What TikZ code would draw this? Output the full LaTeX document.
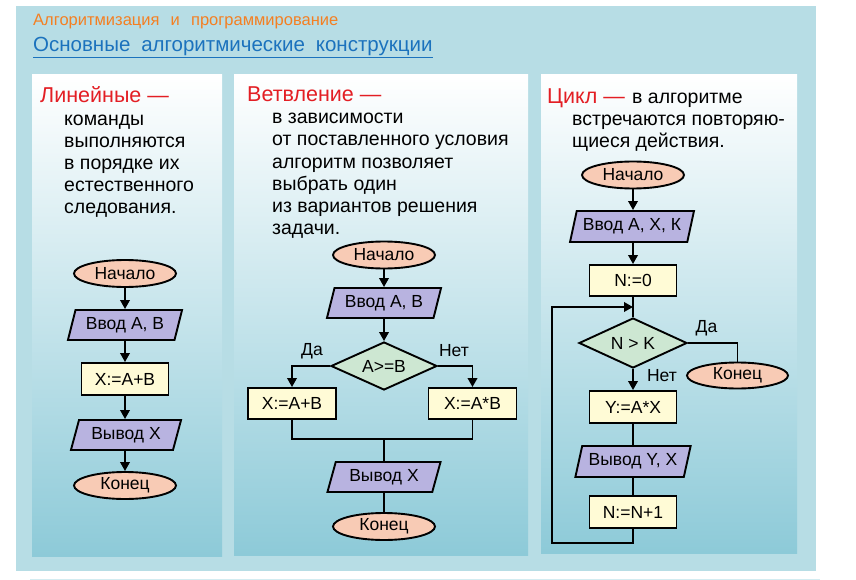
\documentclass[tikz,border=0pt]{standalone}
\usepackage{fontspec}
\setmainfont{Liberation Sans}
\usetikzlibrary{shapes.geometric,arrows.meta}
\definecolor{outerbg}{HTML}{B7DDE5}
\definecolor{panelbot}{HTML}{8DCAD8}
\definecolor{termfill}{HTML}{F8CBB5}
\definecolor{iofill}{HTML}{B8B3E0}
\definecolor{procfill}{HTML}{FFFBD6}
\definecolor{decfill}{HTML}{CDE7D2}
\definecolor{titleorange}{HTML}{F47F22}
\definecolor{titleblue}{HTML}{1B72BD}
\definecolor{headred}{HTML}{E31E24}
\definecolor{footline}{HTML}{D3ECF1}
\tikzset{
  txt/.style={anchor=base west, inner sep=0pt, font=\fontsize{19.5}{22}\selectfont},
  head/.style={anchor=base west, inner sep=0pt, text=headred, font=\fontsize{21.5}{24}\selectfont},
  fc/.style={draw=black, line width=1.9pt, inner sep=0pt, font=\fontsize{17.5}{19}\selectfont},
  term/.style={fc, ellipse, fill=termfill, minimum width=102pt, minimum height=27pt},
  io/.style={fc, trapezium, trapezium left angle=69, trapezium right angle=111, trapezium stretches=true, fill=iofill, minimum width=115pt, minimum height=30pt},
  proc/.style={fc, rectangle, fill=procfill, minimum width=87pt, minimum height=32pt},
  dec/.style={fc, diamond, aspect=2.2, fill=decfill, minimum width=106pt, minimum height=48pt},
  lbl/.style={inner sep=0pt, font=\fontsize{17.5}{19}\selectfont},
  conn/.style={line width=1.9pt},
  arr/.style={conn, -{Triangle[length=9pt,width=9.5pt]}},
  pnl/.style={top color=white, bottom color=panelbot}
}
\begin{document}
\begin{tikzpicture}[x=1pt,y=-1pt]
\useasboundingbox (0,0) rectangle (856,580);
\fill[white] (0,0) rectangle (856,580);
\fill[outerbg] (16,6) rectangle (816,571);
\draw[footline, line width=1pt] (30,579) -- (820,579);
\shade[pnl] (32,75) rectangle (222,556);
\shade[pnl] (234,75) rectangle (528,555);
\shade[pnl] (541,75) rectangle (797,553);

% titles
\node[anchor=base west, inner sep=0pt, text=titleorange, font=\fontsize{16.5}{18}\selectfont] (t1) at (33,26) {Алгоритмизация\hspace{0.4em} и\hspace{0.4em} программирование};
\node[anchor=base west, inner sep=0pt, text=titleblue, font=\fontsize{20.5}{24}\selectfont] (t2) at (33,52) {Основные\hspace{0.25em} алгоритмические\hspace{0.25em} конструкции};
\draw[titleblue, line width=1.3pt] ([yshift=-5.5pt]t2.base west) -- ([yshift=-5.5pt]t2.base east);

% panel 1 text
\node[head] (h1) at (40,103) {Линейные —};
\node[txt] (a1) at (64,126) {команды};
\node[txt] (a2) at (64,148) {выполняются};
\node[txt] (a3) at (64,170) {в порядке их};
\node[txt] (a4) at (64,192) {естественного};
\node[txt] (a5) at (64,214) {следования.};

% panel 2 text
\node[head] (h2) at (247,102) {Ветвление —};
\node[txt] (b1) at (272,124) {в зависимости};
\node[txt] (b2) at (272,146) {от поставленного условия};
\node[txt] (b3) at (272,168) {алгоритм позволяет};
\node[txt] (b4) at (272,190) {выбрать один};
\node[txt] (b5) at (272,212) {из вариантов решения};
\node[txt] (b6) at (272,234) {задачи.};

% panel 3 text
\node[head] (h3) at (547,104) {Цикл —};
\node[txt] (c0) at (632,104) {в алгоритме};
\node[txt] (c1) at (572,126) {встречаются повторяю-};
\node[txt] (c2) at (572,148) {щиеся действия.};

% flowchart 1
\node[term] (n1) at (125,273.5) {Начало};
\node[io] (i1) at (125,325) {Ввод А, В};
\node[proc] (p1) at (125,379) {X:=A+B};
\node[io, minimum width=111pt] (o1) at (126,435) {Вывод X};
\node[term] (k1) at (125,485.5) {Конец};
\draw[arr] (n1) -- (i1);
\draw[arr] (i1) -- (p1);
\draw[arr] (p1) -- (o1.north -| p1);
\draw[arr] (o1.south -| k1) -- (k1);

% flowchart 2
\node[term] (n2) at (384,255) {Начало};
\node[io] (i2) at (384,303) {Ввод А, В};
\node[dec] (d2) at (384,366) {A>=B};
\node[proc, minimum width=88pt, minimum height=31pt] (pl) at (292,403.5) {X:=A+B};
\node[proc, minimum width=88pt, minimum height=31pt] (pr) at (472.5,403.5) {X:=A*B};
\node[io, minimum width=114pt] (o2) at (384,477) {Вывод X};
\node[term] (k2) at (384,526.5) {Конец};
\node[lbl] (yes2) at (312,351) {Да};
\node[lbl] (no2) at (454,351) {Нет};
\coordinate (m2) at (384,439);
\draw[arr] (n2) -- (i2);
\draw[arr] (i2) -- (d2);
\draw[arr] (d2.west) -| (pl.north);
\draw[arr] (d2.east) -| (pr.north);
\draw[conn] (pl.south) |- (m2) -| (pr.south);
\draw[conn] (m2) -- (o2.north);
\draw[conn] (o2) -- (k2);

% flowchart 3
\node[term] (n3) at (633,175) {Начало};
\node[io, minimum width=124pt, minimum height=31pt] (i3) at (632,226.5) {Ввод А, Х, К};
\node[proc, minimum height=31pt] (r0) at (633,280.5) {N:=0};
\node[dec, minimum width=108pt, minimum height=50pt] (d3) at (633,343) {N > K};
\node[term, minimum width=101pt, minimum height=26pt] (k3) at (737.5,375.5) {Конец};
\node[proc] (r1) at (633,407) {Y:=A*X};
\node[io, minimum width=116pt, minimum height=31pt] (o3) at (633,461.5) {Вывод Y, X};
\node[proc] (r4) at (633,512) {N:=N+1};
\node[lbl] (yes3) at (706.5,328) {Да};
\node[lbl] (no3) at (662,376) {Нет};
\coordinate (lb) at (552,543);
\coordinate (lt) at (552,307);
\coordinate (jn) at (633,307);
\draw[arr] (n3) -- (i3.north -| n3);
\draw[arr] (i3.south -| r0) -- (r0);
\draw[conn] (r0) -- (d3);
\draw[conn] (d3.east) -| (k3.north);
\draw[arr] (d3) -- (r1);
\draw[conn] (r1) -- (o3.north -| r1);
\draw[conn] (o3.south -| r4) -- (r4);
\draw[arr] (r4.south) |- (lb) -- (lt) -- (jn);
\end{tikzpicture}
\end{document}
